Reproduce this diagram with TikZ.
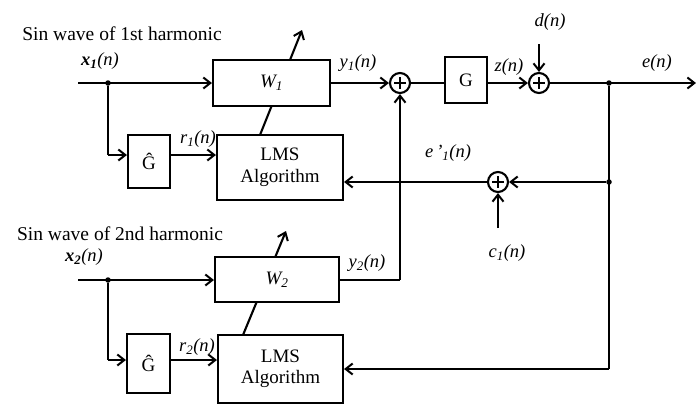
\documentclass[tikz,border=0pt]{standalone}
\usepackage{fontspec}
\setmainfont{Liberation Serif}
\usetikzlibrary{arrows.meta,backgrounds,calc}
\begin{document}
\begin{tikzpicture}[x=1pt,y=-1pt,
  lw/.style={line width=2.1pt},
  blk/.style={draw,lw,fill=white,inner sep=0pt,align=center},
  sumc/.style={draw,lw,circle,fill=white,minimum size=20pt,inner sep=0pt,
    path picture={\draw[line width=1.5pt] ($(path picture bounding box.center)+(-6,0)$) -- ($(path picture bounding box.center)+(6,0)$)
      ($(path picture bounding box.center)+(0,-6)$) -- ($(path picture bounding box.center)+(0,6)$);}},
  dotn/.style={circle,fill,inner sep=0pt,minimum size=5.5pt},
  arr/.style={lw,-{Straight Barb[length=7pt,width=11pt,line width=2pt]}},
  ln/.style={lw},
  lab/.style={font=\fontsize{18.5}{20}\selectfont\itshape,inner sep=0pt},
  txt/.style={font=\fontsize{19.5}{22}\selectfont,inner sep=0pt},
  every node/.append style={font=\fontsize{19}{21.5}\selectfont}
]
\useasboundingbox (0,0) rectangle (696,405);

% ---- top channel
\coordinate (s1) at (78,83);
\node[dotn] (d1) at (108,83) {};
\coordinate (b1) at (108,155);
\node[blk,minimum width=117pt,minimum height=46pt] (W1) at (271.5,83) {\itshape W\textsubscript{1}};
\node[blk,minimum width=42pt,minimum height=53pt] (Gh1) at (149,161.5) {\^{G}};
\node[blk,minimum width=126pt,minimum height=65pt] (L1) at (280,167.5) {LMS\\Algorithm};
\node[sumc] (S1) at (400,83) {};
\node[blk,minimum width=42pt,minimum height=46pt] (G) at (466,80) {G};
\node[sumc] (S2) at (539,83) {};
\node[dotn] (d2) at (609,83) {};
\coordinate (eend) at (696,83);
\coordinate (dn) at (539,44);
\node[dotn] (d3) at (609,182) {};
\node[sumc] (S3) at (498,182) {};
\coordinate (cn) at (498,228);
\coordinate (corner) at (609,369);

% ---- bottom channel
\coordinate (s2) at (78,280);
\node[dotn] (d4) at (108,280) {};
\coordinate (b2) at (108,360);
\node[blk,minimum width=124pt,minimum height=45pt] (W2) at (277,279.5) {\itshape W\textsubscript{2}};
\node[blk,minimum width=43pt,minimum height=59pt] (Gh2) at (148.5,363.5) {\^{G}};
\node[blk,minimum width=125pt,minimum height=68pt] (L2) at (280.5,369) {LMS\\Algorithm};
\coordinate (y2c) at (400,280);

% adaptive arrows (behind W boxes)
\begin{scope}[on background layer]
\coordinate (a1s) at (260,135);
\coordinate (a1e) at (302,30);
\draw[arr] (a1s) -- (a1e);
\coordinate (a2s) at (243,335);
\coordinate (a2e) at (286,231);
\draw[arr] (a2s) -- (a2e);
\end{scope}

% connectors top
\draw[arr] (s1) -- (W1.west |- s1);
\draw[ln] (d1) -- (b1);
\draw[arr] (b1) -- (b1 -| Gh1.west);
\draw[arr] (Gh1.east |- b1) -- (b1 -| L1.west);
\draw[arr] (W1.east |- S1) -- (S1.west);
\draw[ln] (S1.east) -- (G.west |- S1);
\draw[arr] (G.east |- S2) -- (S2.west);
\draw[arr] (dn) -- (S2.north);
\draw[arr] (S2.east) -- (eend);
\draw[ln] (d2) -- (corner);
\draw[arr] (d3) -- (S3.east);
\draw[arr] (S3.west) -- (L1.east |- S3);
\draw[arr] (cn) -- (S3.south);
\draw[arr] (corner) -- (L2.east |- corner);

% connectors bottom
\draw[arr] (s2) -- (W2.west |- s2);
\draw[ln] (d4) -- (b2);
\draw[arr] (b2) -- (b2 -| Gh2.west);
\draw[arr] (Gh2.east |- b2) -- (b2 -| L2.west);
\draw[ln] (W2.east |- y2c) -- (y2c);
\draw[arr] (y2c) -- (S1.south);

% labels
\node[txt] (t1) at (122,34) {Sin wave of 1st harmonic};
\node[txt] (t2) at (120,234) {Sin wave of 2nd harmonic};
\node[lab] (lx1) at (100,61) {\textbf{x}\textsubscript{\textbf{1}}(n)};
\node[lab] (lx2) at (84,257) {\textbf{x}\textsubscript{\textbf{2}}(n)};
\node[lab] (ly1) at (358,63) {y\textsubscript{1}(n)};
\node[lab] (ly2) at (367,263) {y\textsubscript{2}(n)};
\node[lab] (lz) at (509,67) {z(n)};
\node[lab] (ld) at (550,22) {d(n)};
\node[lab] (le) at (657,63) {e(n)};
\node[lab] (lr1) at (198,139) {r\textsubscript{1}(n)};
\node[lab] (lr2) at (197,347) {r\textsubscript{2}(n)};
\node[lab] (lep) at (448,153) {e\,'\textsubscript{1}(n)};
\node[lab] (lc) at (507,253) {c\textsubscript{1}(n)};
\end{tikzpicture}
\end{document}
